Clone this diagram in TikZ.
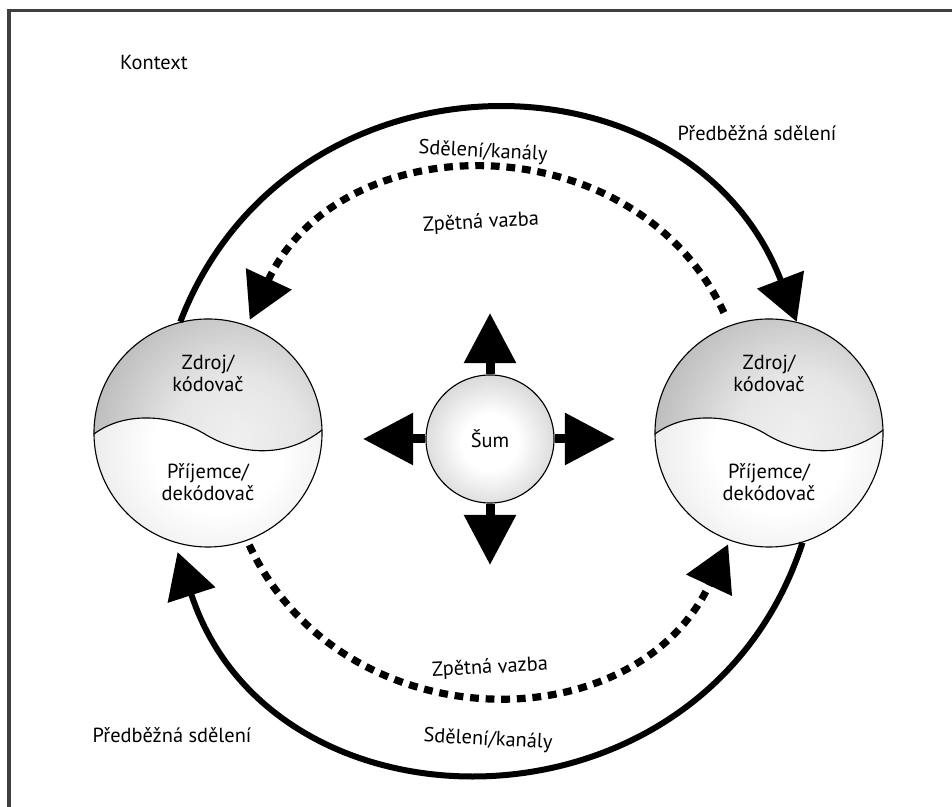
\documentclass[tikz,border=0pt]{standalone}
\usepackage{fontspec}
\setmainfont{PT Sans}
\usetikzlibrary{arrows.meta,positioning}

% shadings of the balls
\pgfdeclareradialshading{upperball}{\pgfpoint{0bp}{0bp}}{color(0bp)=(black!6); color(10bp)=(black!10); color(38bp)=(black!45); color(50bp)=(black!50)}
\pgfdeclareradialshading{lowerball}{\pgfpoint{0bp}{0bp}}{color(0bp)=(white); color(10bp)=(white); color(36bp)=(black!20); color(50bp)=(black!25)}
\pgfdeclareradialshading{noiseball}{\pgfpoint{0bp}{0bp}}{color(0bp)=(white); color(10bp)=(white); color(46bp)=(black!38); color(50bp)=(black!40)}

% fills of the two participants and of the noise ball
\newcommand{\partfill}{%
	\begin{scope}[shift={(path picture bounding box.center)}, x=0.025cm, y=0.025cm]
		\shade[shading=upperball] (30,-5) circle[radius=4cm];
		\begin{scope}
			\clip (-120,-6) .. controls (-90,22) and (-40,20) .. (-5,0)
				.. controls (30,-22) and (80,-28) .. (120,8) -- (120,-130) -- (-120,-130) -- cycle;
			\shade[shading=lowerball] (10,-15) circle[radius=4cm];
		\end{scope}
		\draw[line width=0.8pt] (-120,-6) .. controls (-90,22) and (-40,20) .. (-5,0)
			.. controls (30,-22) and (80,-28) .. (120,8);
	\end{scope}}
\newcommand{\noisefill}{%
	\shade[shading=noiseball] ([yshift=-0.08cm]path picture bounding box.center) circle[radius=1.75cm];}

\tikzset{
	part/.style={circle, draw=black, line width=0.8pt, minimum size=5.7cm, inner sep=0pt, path picture={\partfill}},
	noise/.style={circle, draw=black, line width=0.8pt, minimum size=3.2cm, inner sep=0pt, path picture={\noisefill}},
	lbl/.style={align=center, inner sep=1pt},
	frame/.style={line width=0.075cm, black!75},
	flow/.style={line width=0.15cm, -{Triangle[length=1.13cm, width=1.22cm]}},
	feedback/.style={line width=0.18cm, dash pattern=on 0.22cm off 0.17cm, -{Triangle[length=1.13cm, width=1.22cm]}},
	burst/.style={line width=0.225cm, -{Triangle[length=1.25cm, width=1.25cm]}}
}

\begin{document}
\begin{tikzpicture}[x=0.025cm, y=0.025cm, font=\fontsize{14.5}{15.5}\selectfont]
	\useasboundingbox (0,0) rectangle (952,807);
	\draw[frame] (9,0) -- (9,796) -- (952,796);

	\node[lbl] (ctx) at (154,745) {Kontext};
	\node[lbl] (preTop) at (757,674) {Předběžná sdělení};
	\node[lbl] (preBot) at (172,72) {Předběžná sdělení};

	\node[part] (partA) at (208,374) {};
	\node[part] (partB) at (769,374) {};
	\node[noise] (noise) at (490,368) {Šum};

	\node[lbl] (codeA) at ([yshift=1.5cm]partA.center) {Zdroj/\\kódovač};
	\node[lbl] (decA) at ([yshift=-1.22cm]partA.center) {Příjemce/\\dekódovač};
	\node[lbl] (codeB) at ([yshift=1.5cm]partB.center) {Zdroj/\\kódovač};
	\node[lbl] (decB) at ([yshift=-1.22cm]partB.center) {Příjemce/\\dekódovač};

	\node[lbl, rotate=-3] (chanTop) at (483,655) {Sdělení/kanály};
	\node[lbl, rotate=3] (fbTop) at (481,584) {Zpětná vazba};
	\node[lbl, rotate=3] (fbBot) at (490,139) {Zpětná vazba};
	\node[lbl, rotate=-3] (chanBot) at (488,67) {Sdělení/kanály};

	% channels between the two participants
	\draw[flow] (partA.104) to[out=69, in=111, looseness=1.25] (partB.76);
	\draw[flow, shorten >=0.25cm] (partB.-73) to[out=-108, in=-72, looseness=1.3] (partA.-107);
	\draw[feedback, shorten <=0.35cm, shorten >=0.15cm] (partB.110) to[out=115, in=65, looseness=1.19] (partA.70);
	\draw[feedback, shorten <=0.12cm, shorten >=0.1cm] (partA.-70) to[out=-65, in=-115, looseness=1.19] (partB.-110);

	% noise spreading out
	\coordinate (nUp) at (490,494);
	\coordinate (nDown) at (490,242);
	\coordinate (nLeft) at (363,368);
	\coordinate (nRight) at (615,368);
	\draw[burst] (noise.north) -- (nUp);
	\draw[burst] (noise.south) -- (nDown);
	\draw[burst] (noise.west) -- (nLeft);
	\draw[burst] (noise.east) -- (nRight);
\end{tikzpicture}
\end{document}
